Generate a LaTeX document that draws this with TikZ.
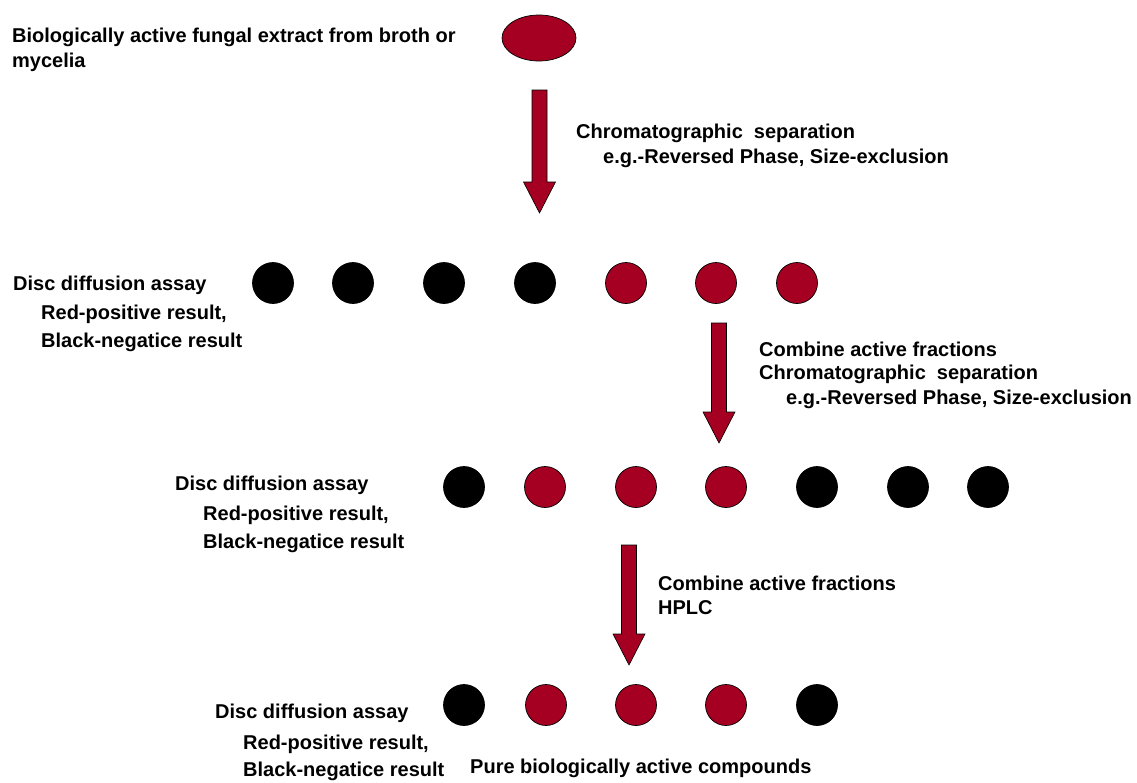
\documentclass[tikz,border=0pt]{standalone}
\usepackage{fontspec}
\setmainfont{Liberation Sans}
\usetikzlibrary{shapes.geometric}
\definecolor{fungalred}{HTML}{A50021}
\newcommand\blockarrow[3]{% center x, top y, tip y
  \draw[barrow] (#1-7.5,#2) -- (#1+7.5,#2) -- (#1+7.5,#3-31) -- (#1+16,#3-31)
    -- (#1,#3) -- (#1-16,#3-31) -- (#1-7.5,#3-31) -- cycle;}
\begin{document}
\begin{tikzpicture}[x=1pt,y=-1pt,
  lbl/.style={anchor=west, inner sep=0pt, font=\fontsize{20}{24}\selectfont\bfseries, text height=14.3pt, text depth=0pt},
  disc/.style={circle, draw=black, line width=0.7pt, minimum size=41pt, inner sep=0pt},
  posdisc/.style={disc, fill=fungalred},
  negdisc/.style={disc, fill=black},
  barrow/.style={draw=black, line width=0.6pt, fill=fungalred, line join=miter}]
\useasboundingbox (0,0) rectangle (1137,782);
% top extract
\node[ellipse, draw=black, line width=0.7pt, fill=fungalred, minimum width=74pt, minimum height=46pt, inner sep=0pt] (extract) at (539,38) {};
\node[lbl] (t1a) at (12,35) {Biologically active fungal extract from broth or};
\node[lbl] (t1b) at (12,60) {mycelia};
% arrow 1
\blockarrow{539.5}{90}{213}
\node[lbl] (a1a) at (576,131) {Chromatographic\ \ separation};
\node[lbl] (a1b) at (603,156) {e.g.-Reversed Phase, Size-exclusion};
% row 1
\node[negdisc] (r1c1) at (273,283) {};
\node[negdisc] (r1c2) at (353,283) {};
\node[negdisc] (r1c3) at (444,283) {};
\node[negdisc] (r1c4) at (535,283) {};
\node[posdisc] (r1c5) at (626,283) {};
\node[posdisc] (r1c6) at (716,283) {};
\node[posdisc] (r1c7) at (797,283) {};
\node[lbl] (d1a) at (13,283) {Disc diffusion assay};
\node[lbl] (d1b) at (41,312) {Red-positive result,};
\node[lbl] (d1c) at (41,340) {Black-negatice result};
% arrow 2
\blockarrow{719}{323}{443}
\node[lbl] (a2a) at (759,349) {Combine active fractions};
\node[lbl] (a2b) at (759,372) {Chromatographic\ \ separation};
\node[lbl] (a2c) at (786,397) {e.g.-Reversed Phase, Size-exclusion};
% row 2
\node[negdisc] (r2c1) at (464,487) {};
\node[posdisc] (r2c2) at (545,487) {};
\node[posdisc] (r2c3) at (636,487) {};
\node[posdisc] (r2c4) at (726,487) {};
\node[negdisc] (r2c5) at (817,487) {};
\node[negdisc] (r2c6) at (908,487) {};
\node[negdisc] (r2c7) at (988,487) {};
\node[lbl] (d2a) at (175,483) {Disc diffusion assay};
\node[lbl] (d2b) at (203,513) {Red-positive result,};
\node[lbl] (d2c) at (203,541) {Black-negatice result};
% arrow 3
\blockarrow{629}{545}{665}
\node[lbl] (a3a) at (658,583) {Combine active fractions};
\node[lbl] (a3b) at (658,607) {HPLC};
% row 3
\node[negdisc] (r3c1) at (464,705) {};
\node[posdisc] (r3c2) at (546,705) {};
\node[posdisc] (r3c3) at (636,705) {};
\node[posdisc] (r3c4) at (726,705) {};
\node[negdisc] (r3c5) at (817,705) {};
\node[lbl] (d3a) at (215,711) {Disc diffusion assay};
\node[lbl] (d3b) at (243,742) {Red-positive result,};
\node[lbl] (d3c) at (243,769) {Black-negatice result};
\node[lbl] (pure) at (470,766) {Pure biologically active compounds};
\end{tikzpicture}
\end{document}
